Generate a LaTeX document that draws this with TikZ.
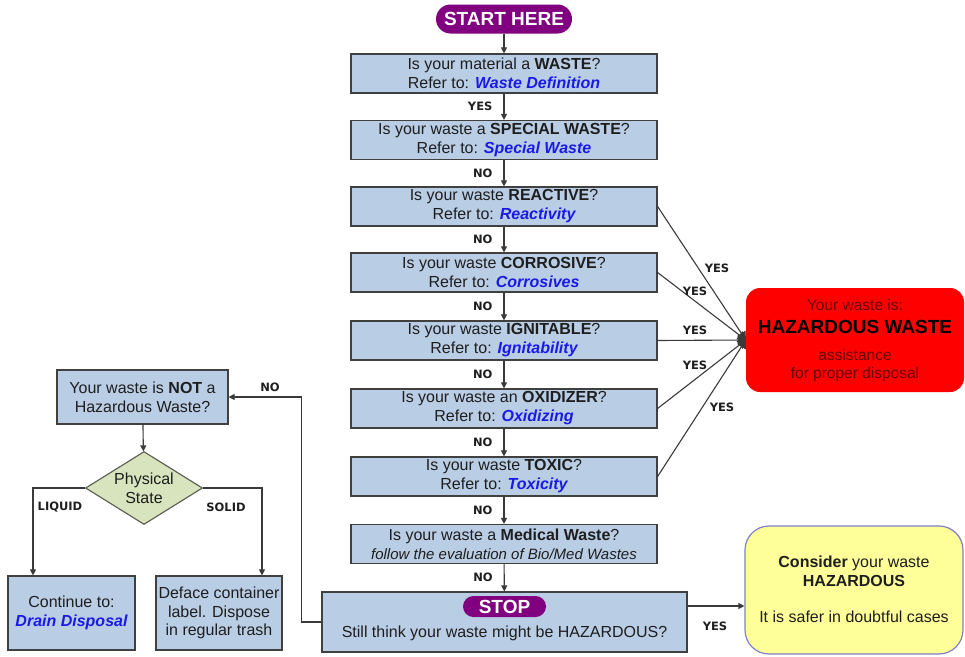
\documentclass[tikz,border=0pt]{standalone}
\usepackage{fontspec}
\setmainfont{Liberation Sans}
\newfontfamily\lblfont{DejaVu Sans}
\usetikzlibrary{arrows.meta,shapes.geometric}

\definecolor{boxfill}{HTML}{B9CDE5}
\definecolor{boxline}{HTML}{404040}
\definecolor{wire}{HTML}{3A3A3A}
\definecolor{linkblue}{HTML}{1A1AE6}
\definecolor{pillpurple}{HTML}{800080}
\definecolor{hazred}{HTML}{FF0000}
\definecolor{hazdark}{HTML}{6A0000}
\definecolor{diafill}{HTML}{D7E4BD}
\definecolor{diaLine}{HTML}{5A5A50}
\definecolor{yelfill}{HTML}{FFFF99}
\definecolor{yelline}{HTML}{8080C8}
\definecolor{txt}{HTML}{1E1E1E}

\newcommand\lnk[1]{\textcolor{linkblue}{\bfseries\itshape #1}}

\begin{document}
\begin{tikzpicture}[x=1pt,y=-1pt,
  every node/.style={font=\fontsize{16}{19}\selectfont, text=txt},
  qbox/.style={draw=boxline, fill=boxfill, line width=1.2pt, minimum width=306pt,
               minimum height=39pt, inner sep=0pt, align=center},
  sidebox/.style={draw=boxline, fill=boxfill, line width=1.2pt, inner sep=0pt, align=center},
  pillnode/.style={fill=pillpurple, rounded corners=11pt, text=white, inner sep=0pt,
               font=\fontsize{19}{22}\selectfont\bfseries},
  lbl/.style={font=\lblfont\bfseries\fontsize{11.5}{13}\selectfont, text=txt, inner sep=0pt},
  arr/.style={draw=wire, line width=1.1pt, -{Triangle[length=6pt,width=6pt]}},
  fanarr/.style={draw=wire, line width=1.1pt, -{Triangle[length=8pt,width=10pt]}},
  wireline/.style={draw=wire, line width=1.1pt}
]
\useasboundingbox (0,0) rectangle (965,656);

% ---- main question column ----
\node[pillnode, minimum width=136pt, minimum height=29pt, rounded corners=14.5pt] (start) at (504,19) {START HERE};
\node[qbox] (q1) at (504,73.5) {Is your material a \textbf{WASTE}?\\Refer to: \lnk{Waste Definition}};
\node[qbox] (q2) at (504,140) {Is your waste a \textbf{SPECIAL WASTE}?\\Refer to: \lnk{Special Waste}};
\node[qbox] (q3) at (504,206.5) {Is your waste \textbf{REACTIVE}?\\Refer to: \lnk{Reactivity}};
\node[qbox] (q4) at (504,272.5) {Is your waste \textbf{CORROSIVE}?\\Refer to: \lnk{Corrosives}};
\node[qbox] (q5) at (504,340.5) {Is your waste \textbf{IGNITABLE}?\\Refer to: \lnk{Ignitability}};
\node[qbox] (q6) at (504,408.5) {Is your waste an \textbf{OXIDIZER}?\\Refer to: \lnk{Oxidizing}};
\node[qbox] (q7) at (504,476.5) {Is your waste \textbf{TOXIC}?\\Refer to: \lnk{Toxicity}};
\node[qbox] (q8) at (504,544) {Is your waste a \textbf{Medical Waste}?\\{\fontsize{15}{17}\selectfont\itshape follow the evaluation of Bio/Med Wastes}};

% ---- stop box ----
\node[qbox, minimum width=365pt, minimum height=60pt] (stopbox) at (504.5,622) {};
\node[pillnode, minimum width=83pt, minimum height=21pt, rounded corners=10.5pt] (stop) at (504.5,606.5) {STOP};
\node (stoptext) at (504.5,633) {Still think your waste might be HAZARDOUS?};

% ---- result boxes ----
\node[fill=hazred, rounded corners=14pt, minimum width=218pt, minimum height=104pt, inner sep=0pt] (haz) at (855,340) {};
\node[text=hazdark, font=\fontsize{15.5}{18}\selectfont] (hz1) at (855,305) {Your waste is:};
\node[text=black, font=\fontsize{19}{22}\selectfont\bfseries] (hz2) at (855,327) {HAZARDOUS WASTE};
\node[text=hazdark, font=\fontsize{15.5}{18}\selectfont, align=center] (hz3) at (855,365) {assistance\\for proper disposal};

\node[draw=yelline, fill=yelfill, line width=1.2pt, rounded corners=24pt,
      minimum width=218pt, minimum height=128pt, inner sep=0pt] (yel) at (854,590) {};
\node[align=center] (yel1) at (854,571) {\textbf{Consider} your waste\\\textbf{HAZARDOUS}};
\node (yel2) at (854,617) {It is safer in doubtful cases};

% ---- non-hazardous branch ----
\node[sidebox, minimum width=171pt, minimum height=54pt] (notbox) at (142.5,397) {Your waste is \textbf{NOT} a\\Hazardous Waste?};
\node[diamond, draw=diaLine, fill=diafill, line width=1.1pt, minimum width=117pt, minimum height=73pt,
      inner sep=0pt, aspect=1.6, align=center] (phys) at (144,488) {Physical\\State};
\node[sidebox, minimum width=127pt, minimum height=74pt] (drain) at (71.5,613) {Continue to:\\\lnk{Drain Disposal}};
\node[sidebox, minimum width=126pt, minimum height=74pt, font=\fontsize{16}{18.5}\selectfont] (deface) at (219,613) {Deface container\\label. Dispose\\in regular trash};

% ---- connectors down the column ----
\draw[arr] (start) -- (q1);
\draw[arr] (q1) -- node[lbl, left=11pt] {YES} (q2);
\draw[arr] (q2) -- node[lbl, left=11pt] {NO} (q3);
\draw[arr] (q3) -- node[lbl, left=11pt] {NO} (q4);
\draw[arr] (q4) -- node[lbl, left=11pt] {NO} (q5);
\draw[arr] (q5) -- node[lbl, left=11pt] {NO} (q6);
\draw[arr] (q6) -- node[lbl, left=11pt] {NO} (q7);
\draw[arr] (q7) -- node[lbl, left=11pt] {NO} (q8);
\draw[arr] (q8) -- node[lbl, left=11pt] {NO} (stopbox);

% ---- yes branches fanning into the hazardous box ----
\draw[fanarr] (q3.east) -- (haz.west);
\draw[fanarr] (q4.east) -- (haz.west);
\draw[fanarr] (q5.east) -- (haz.west);
\draw[fanarr] (q6.east) -- (haz.west);
\draw[fanarr] (q7.east) -- (haz.west);
\node[lbl] (y3) at (717,268) {YES};
\node[lbl] (y4) at (695,291) {YES};
\node[lbl] (y5) at (695,330) {YES};
\node[lbl] (y6) at (695,365) {YES};
\node[lbl] (y7) at (722,407) {YES};

% ---- stop box exits ----
\draw[arr] ([yshift=16pt]stopbox.east) -- ([yshift=16pt]stopbox.east -| yel.west);
\node[lbl] (yst) at (715,626) {YES};
\draw[arr] (stopbox.west) -- ++(-20,0) |- (notbox.east);
\node[lbl] (nst) at (270,387) {NO};

% ---- physical state split ----
\draw[arr] (notbox) -- (phys);
\draw[arr] (phys.west) -| ([xshift=-38.5pt]drain.north);
\draw[arr] (phys.east) -| ([xshift=43pt]deface.north);
\node[lbl] (liq) at (60,507) {LIQUID};
\node[lbl] (sol) at (226,507) {SOLID};
\end{tikzpicture}
\end{document}
